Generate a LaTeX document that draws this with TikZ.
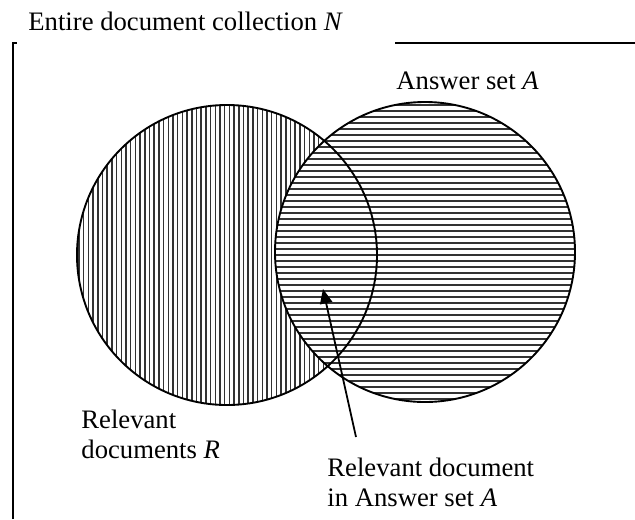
\documentclass[tikz,border=0pt]{standalone}
\usepackage{fontspec}
\setmainfont{Liberation Serif}
\usetikzlibrary{arrows.meta}
\begin{document}
\begin{tikzpicture}[x=0.45pt,y=-0.45pt,font=\fontsize{12}{13.5}\selectfont,
    hatch/.style={black!80,line width=0.65pt},
    lbl/.style={inner sep=0pt,align=left}]
      \useasboundingbox (0,0) rectangle (635,519);
      % frame of the collection
      \draw[line width=0.9pt] (13,519) -- (13,43) -- (17,43);
      \draw[line width=0.9pt] (395,43) -- (635,43);
      \node[lbl,anchor=base west] (coll) at (28,30) {Entire document collection \textit{N}};
      % relevant documents: vertical lines
      \begin{scope}
        \clip (227,255) circle[radius=150];
        \foreach \x in {79,83.7,...,378} { \draw[hatch] (\x,100) -- (\x,410); }
      \end{scope}
      % answer set: horizontal lines
      \fill[white] (425,252) circle[radius=150];
      \begin{scope}
        \clip (425,252) circle[radius=150];
        \foreach \y in {105,111,...,402} { \draw[hatch] (270,\y) -- (580,\y); }
      \end{scope}
      \draw[line width=0.85pt] (227,255) circle[radius=150];
      \draw[line width=0.85pt] (425,252) circle[radius=150];
      \node[lbl,anchor=base west] (ans) at (396,89) {Answer set \textit{A}};
      \node[lbl,anchor=north west] (relR) at (81,410) {Relevant\\documents \textit{R}};
      \node[lbl,anchor=north west] (relRA) at (327,458) {Relevant document\\in Answer set \textit{A}};
      \coordinate (tail) at (356,437);
      \coordinate (tip) at (323,289);
      \draw[line width=0.8pt,-{Triangle[length=6.5pt,width=5.5pt]}] (tail) -- (tip);
    \end{tikzpicture}
\end{document}
